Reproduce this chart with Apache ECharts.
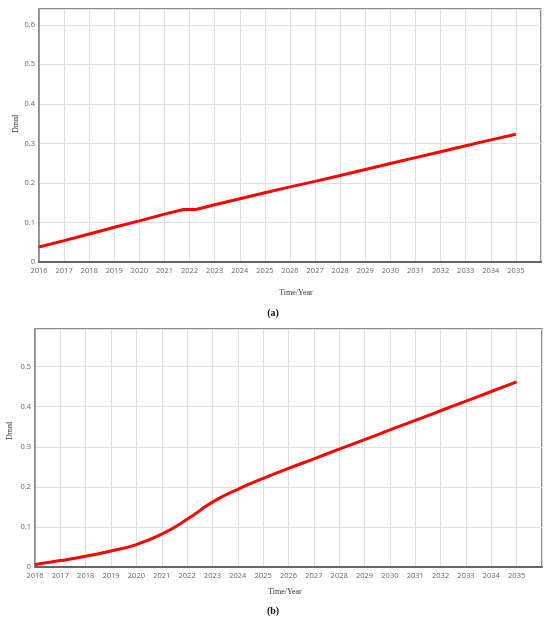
<!DOCTYPE html>
<html>
<head>
<meta charset="utf-8">
<script src="https://cdn.jsdelivr.net/npm/echarts@6/dist/echarts.min.js"></script>
<style>
  html, body { margin: 0; padding: 0; background: #fff; }
  #main { width: 550px; height: 621px; }
</style>
</head>
<body>
<div id="main"></div>
<script>
// panel (a): straight rise, short flat step around 2022
var yearsA = [2016, 2017, 2018, 2019, 2020, 2021, 2021.75, 2022.25, 2023, 2024, 2025, 2026,
  2027, 2028, 2029, 2030, 2031, 2032, 2033, 2034, 2035];
var valuesA = [0.038, 0.054, 0.071, 0.088, 0.104, 0.121, 0.133, 0.133, 0.145, 0.160, 0.175, 0.190,
  0.204, 0.219, 0.234, 0.249, 0.264, 0.279, 0.294, 0.309, 0.323];

// panel (b): s-shaped start, then linear
var yearsB = [2016, 2017, 2018, 2019, 2020, 2021, 2022, 2023, 2024, 2025, 2026,
  2027, 2028, 2029, 2030, 2031, 2032, 2033, 2034, 2035];
var valuesB = [0.006, 0.016, 0.027, 0.040, 0.056, 0.082, 0.119, 0.162, 0.194, 0.221, 0.246,
  0.270, 0.294, 0.318, 0.342, 0.366, 0.390, 0.414, 0.438, 0.462];

var yTitle = 'Dmnl';
var xTitle = 'Time/Year';
var panelLabels = ['(a)', '(b)'];

function pairs(xs, ys) {
  return xs.map(function (x, i) { return [x, ys[i]]; });
}

var chart = echarts.init(document.getElementById('main'));

var labelStyle = { fontSize: 7.5, color: '#666', fontFamily: 'Open Sans' };
var gridLine = { show: true, lineStyle: { color: '#dedede', width: 1 } };

function xAxis(idx) {
  return {
    type: 'value', gridIndex: idx, min: 2016, max: 2036, interval: 1,
    axisLine: { show: true, lineStyle: { color: '#666', width: 2 } },
    axisTick: { show: false },
    axisLabel: Object.assign({ showMaxLabel: false, margin: 5,
      formatter: function (v) { return String(v); } }, labelStyle),
    splitLine: gridLine
  };
}
function yAxis(idx, max) {
  return {
    type: 'value', gridIndex: idx, min: 0, max: max, interval: 0.1,
    axisLine: { show: true, lineStyle: { color: '#888', width: 1.5 } },
    axisTick: { show: false },
    axisLabel: Object.assign({ showMaxLabel: false, margin: 4 }, labelStyle),
    splitLine: gridLine
  };
}

var serif = 'Liberation Serif';

chart.setOption({
  animation: false,
  grid: [
    { left: 39, top: 9, width: 502, height: 253, show: true, borderColor: '#666', borderWidth: 1.5 },
    { left: 35, top: 329, width: 507, height: 238, show: true, borderColor: '#666', borderWidth: 1.5 }
  ],
  xAxis: [xAxis(0), xAxis(1)],
  yAxis: [yAxis(0, 0.64), yAxis(1, 0.594)],
  series: [
    {
      type: 'line', xAxisIndex: 0, yAxisIndex: 0, data: pairs(yearsA, valuesA),
      showSymbol: false, lineStyle: { color: '#ff0000', width: 3 }
    },
    {
      type: 'line', xAxisIndex: 1, yAxisIndex: 1, data: pairs(yearsB, valuesB),
      smooth: 0.5, showSymbol: false, lineStyle: { color: '#ff0000', width: 3 }
    }
  ],
  graphic: [
    { type: 'text', x: 16, y: 124, rotation: Math.PI / 2,
      style: { text: yTitle, font: '8px ' + serif, fill: '#333', align: 'center', verticalAlign: 'middle' } },
    { type: 'text', x: 10, y: 431, rotation: Math.PI / 2,
      style: { text: yTitle, font: '8px ' + serif, fill: '#333', align: 'center', verticalAlign: 'middle' } },
    { type: 'text', x: 296, y: 293,
      style: { text: xTitle, font: '8px ' + serif, fill: '#333', align: 'center', verticalAlign: 'middle' } },
    { type: 'text', x: 285, y: 592,
      style: { text: xTitle, font: '8px ' + serif, fill: '#333', align: 'center', verticalAlign: 'middle' } },
    { type: 'text', x: 273, y: 313,
      style: { text: panelLabels[0], font: 'bold 10px ' + serif, fill: '#111', align: 'center', verticalAlign: 'middle' } },
    { type: 'text', x: 273, y: 611,
      style: { text: panelLabels[1], font: 'bold 10px ' + serif, fill: '#111', align: 'center', verticalAlign: 'middle' } }
  ]
});
</script>
</body>
</html>
